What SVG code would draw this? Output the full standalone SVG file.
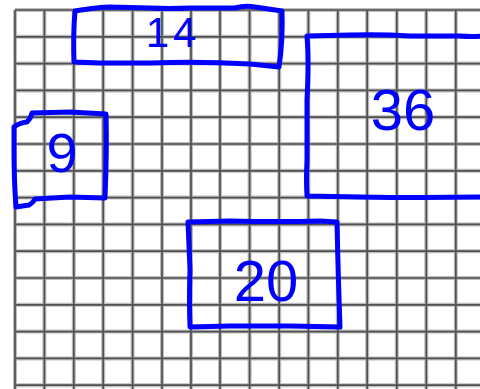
<svg xmlns="http://www.w3.org/2000/svg" width="480" height="389" viewBox="0 0 480 389">
<style>
.gh{stroke:#bdbdbd;stroke-width:4;fill:none}
.gd{stroke:#505050;stroke-width:1.7;fill:none}
.box{fill:none;stroke:#0000ff;stroke-width:5;stroke-linejoin:round;stroke-linecap:round}
.lbl{fill:#0000ff;font-family:"Liberation Sans",Arial,sans-serif;text-anchor:middle}
</style>
<rect width="480" height="389" fill="#ffffff"/>
<defs>
<g id="gridlines">
<line x1="15" y1="10" x2="15" y2="389"/>
<line x1="44.4" y1="10" x2="44.4" y2="389"/>
<line x1="73.8" y1="10" x2="73.8" y2="389"/>
<line x1="103.2" y1="10" x2="103.2" y2="389"/>
<line x1="132.6" y1="10" x2="132.6" y2="389"/>
<line x1="162" y1="10" x2="162" y2="389"/>
<line x1="191" y1="10" x2="191" y2="389"/>
<line x1="220" y1="10" x2="220" y2="389"/>
<line x1="249.6" y1="10" x2="249.6" y2="389"/>
<line x1="279.2" y1="10" x2="279.2" y2="389"/>
<line x1="308.4" y1="10" x2="308.4" y2="389"/>
<line x1="337.8" y1="10" x2="337.8" y2="389"/>
<line x1="367.2" y1="10" x2="367.2" y2="389"/>
<line x1="396.8" y1="10" x2="396.8" y2="389"/>
<line x1="426.3" y1="10" x2="426.3" y2="389"/>
<line x1="455.8" y1="10" x2="455.8" y2="389"/>
<line x1="15" y1="10" x2="480" y2="10"/>
<line x1="15" y1="36.8" x2="480" y2="36.8"/>
<line x1="15" y1="63.6" x2="480" y2="63.6"/>
<line x1="15" y1="90.4" x2="480" y2="90.4"/>
<line x1="15" y1="117.2" x2="480" y2="117.2"/>
<line x1="15" y1="144" x2="480" y2="144"/>
<line x1="15" y1="170.8" x2="480" y2="170.8"/>
<line x1="15" y1="197.6" x2="480" y2="197.6"/>
<line x1="15" y1="224.4" x2="480" y2="224.4"/>
<line x1="15" y1="251.2" x2="480" y2="251.2"/>
<line x1="15" y1="278" x2="480" y2="278"/>
<line x1="15" y1="304.8" x2="480" y2="304.8"/>
<line x1="15" y1="331.6" x2="480" y2="331.6"/>
<line x1="15" y1="358.4" x2="480" y2="358.4"/>
<line x1="15" y1="385.2" x2="480" y2="385.2"/>
</g>
</defs>
<g id="grid">
<use href="#gridlines" class="gh"/>
<use href="#gridlines" class="gd"/>
</g>
<g id="connectors"/>
<g id="node-14">
<path class="box" d="M75,11 Q100,7 110,7 L150,8 Q170,9 190,8 L235,8 Q245,5 255,7 L282,11 Q283,40 279,67 L250,64 Q200,61 150,63 L100,63 L74,62 Q73,35 75,11 Z"/>
<text class="lbl" x="173" y="47" font-size="42" letter-spacing="4">14</text>
</g>
<g id="node-36">
<path class="box" d="M307,36 L350,35 Q380,34 410,36 L460,36 Q472,37 482,36 M307,36 Q309,60 307,100 L307,160 Q306,180 307,196 L360,197 Q420,198 482,197"/>
<text class="lbl" x="403" y="130" font-size="58">36</text>
</g>
<g id="node-20">
<path class="box" d="M188,222 L230,221 Q280,222 320,221 L337,222 Q338,270 340,327 L290,326 L230,326 L190,327 Q189,300 190,270 Q189,245 188,222 Z"/>
<text class="lbl" x="266" y="301" font-size="58">20</text>
</g>
<g id="node-9">
<path class="box" d="M32,113 L70,112 L106,114 Q107,150 105,198 L70,197 L35,199 Q33,203 29,205 L16,207 Q14,180 14,150 L14,127 Q19,123 27,122 Q31,118 32,113 Z"/>
<text class="lbl" x="62" y="172" font-size="56">9</text>
</g>
</svg>
